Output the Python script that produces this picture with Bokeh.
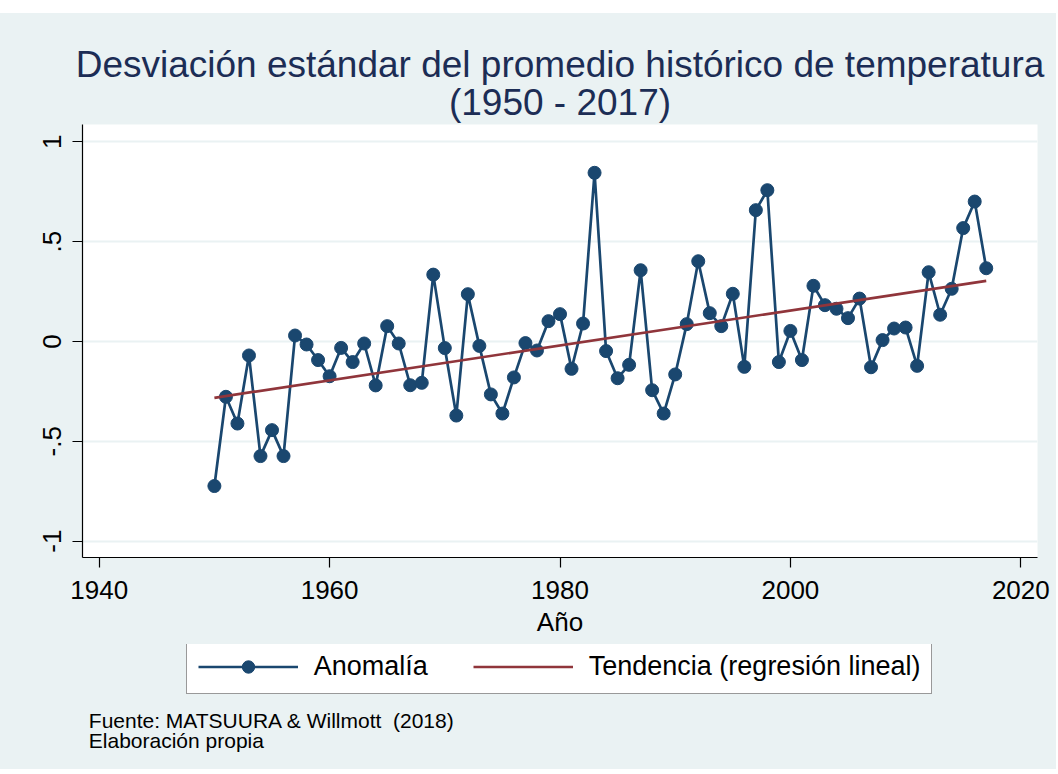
from bokeh.plotting import figure
from bokeh.models import Range1d, FixedTicker, Legend, LegendItem, Spacer, Label, Title
from bokeh.layouts import column
from bokeh.embed import file_html
from bokeh.resources import INLINE

# ---- data ----
years = list(range(1950, 2018))
anomalia = [
    -0.724, -0.277, -0.411, -0.070, -0.574, -0.444, -0.574, 0.030, -0.015, -0.093,
    -0.174, -0.032, -0.103, -0.010, -0.220, 0.077, -0.010, -0.219, -0.207, 0.335,
    -0.033, -0.371, 0.237, -0.022, -0.265, -0.361, -0.180, -0.008, -0.045, 0.102,
    0.137, -0.137, 0.090, 0.845, -0.048, -0.184, -0.117, 0.357, -0.244, -0.361,
    -0.165, 0.087, 0.402, 0.142, 0.077, 0.239, -0.127, 0.658, 0.758, -0.103,
    0.053, -0.093, 0.279, 0.182, 0.164, 0.117, 0.215, -0.129, 0.007, 0.065,
    0.070, -0.122, 0.347, 0.134, 0.264, 0.568, 0.701, 0.367,
]
trend_years = [1950, 2017]
trend_vals = [-0.282, 0.304]

x_ticks = [1940, 1960, 1980, 2000, 2020]
y_ticks = [-1.0, -0.5, 0.0, 0.5, 1.0]
y_tick_labels = ["-1", "-.5", "0", ".5", "1"]

title_line1 = "Desviación estándar del promedio histórico de temperatura"
title_line2 = "(1950 - 2017)"
x_title = "Año"
legend_labels = ["Anomalía", "Tendencia (regresión lineal)"]
caption1 = "Fuente: MATSUURA & Willmott \u00a0(2018)"
caption2 = "Elaboración propia"

# ---- style ----
BG = "#EAF2F3"
NAVY = "#1a476f"
MAROON = "#90353b"
TITLE_C = "#1c2d55"
FONT = "Liberation Sans"
FW = 955          # frame width shared by the stacked figures
BL, BR = 82, 19   # left / right borders

# ---- main chart ----
p = figure(
    frame_width=FW, frame_height=433,
    x_range=Range1d(1938.55, 2021.45), y_range=Range1d(-1.082, 1.087),
    output_backend="svg", toolbar_location=None,
    min_border_left=BL, min_border_right=BR, min_border_top=111, min_border_bottom=87,
    background_fill_color="white", border_fill_color=BG, outline_line_color=None,
)

for ax in (p.xaxis[0], p.yaxis[0]):
    ax.axis_line_color = "black"
    ax.axis_line_width = 1.2
    ax.major_tick_line_color = "black"
    ax.major_tick_line_width = 1.2
    ax.major_tick_out = 10
    ax.major_tick_in = 0
    ax.minor_tick_line_color = None
    ax.major_label_text_font = FONT
    ax.major_label_text_font_size = "26px"
    ax.major_label_text_color = "black"

p.xaxis.ticker = FixedTicker(ticks=x_ticks)
p.xaxis.major_label_standoff = 13
p.xaxis.axis_label = x_title
p.xaxis.axis_label_text_font = FONT
p.xaxis.axis_label_text_font_size = "26px"
p.xaxis.axis_label_text_font_style = "normal"
p.xaxis.axis_label_text_color = "black"
p.xaxis.axis_label_standoff = 5

p.yaxis.ticker = FixedTicker(ticks=y_ticks)
p.yaxis.major_label_overrides = {t: s for t, s in zip(y_ticks, y_tick_labels)}
p.yaxis.major_label_orientation = "vertical"
p.yaxis.major_label_standoff = 11

p.xgrid.visible = False
p.ygrid.grid_line_color = BG
p.ygrid.grid_line_width = 2

p.line(years, anomalia, line_color=NAVY, line_width=2.7)
p.scatter(years, anomalia, size=13, fill_color=NAVY, line_color=NAVY)
p.line(trend_years, trend_vals, line_color=MAROON, line_width=2.7)

# titles (first added sits nearest the frame)
p.add_layout(Title(text=title_line2, align="center", offset=1, standoff=4,
                   text_font=FONT, text_font_size="37px", text_font_style="normal",
                   text_color=TITLE_C), "above")
p.add_layout(Title(text=title_line1, align="center", offset=4, standoff=-14,
                   text_font=FONT, text_font_size="37px", text_font_style="normal",
                   text_color=TITLE_C), "above")

# ---- legend + caption panel (frame aligned with the chart's frame) ----
BH = 125
pb = figure(frame_width=FW, frame_height=BH, x_range=Range1d(0, FW), y_range=Range1d(BH, 0),
            x_axis_type=None, y_axis_type=None, output_backend="svg",
            toolbar_location=None, min_border_left=BL, min_border_right=BR,
            min_border_top=0, min_border_bottom=0,
            background_fill_color=BG, background_fill_alpha=0.0,
            border_fill_color=BG, outline_line_color=None)
pb.xgrid.visible = False
pb.ygrid.visible = False

# legend samples (kept outside the visible range; only their legend glyphs show)
lg_line = pb.line([-500, -400], [-500, -500], line_color=NAVY, line_width=2.7)
lg_pts = pb.scatter([-450], [-500], size=13, fill_color=NAVY, line_color=NAVY)
lg_trend = pb.line([-500, -400], [-500, -500], line_color=MAROON, line_width=2.7)
legend = Legend(
    items=[LegendItem(label=legend_labels[0], renderers=[lg_line, lg_pts]),
           LegendItem(label=legend_labels[1], renderers=[lg_trend])],
    orientation="horizontal", location=(103.7, BH - 50.3), margin=0,
    glyph_width=100, glyph_height=31, label_standoff=16, spacing=45, padding=11,
    border_line_color="#333333", border_line_width=1.5,
    background_fill_color="white", background_fill_alpha=1.0,
    label_text_font=FONT, label_text_font_size="27px", label_text_color="black",
)
pb.add_layout(legend)
pb.add_layout(Label(x=6.3, y=75.7, text=caption1, text_align="left",
                    text_baseline="alphabetic", text_font=FONT, text_font_size="21px",
                    text_color="black"))
pb.add_layout(Label(x=6.3, y=95.7, text=caption2, text_align="left",
                    text_baseline="alphabetic", text_font=FONT, text_font_size="21px",
                    text_color="black"))

inner = column(p, pb, styles={"background-color": BG})
layout = column(Spacer(height=13), inner)
open("out.html", "w").write(file_html(layout, INLINE))
